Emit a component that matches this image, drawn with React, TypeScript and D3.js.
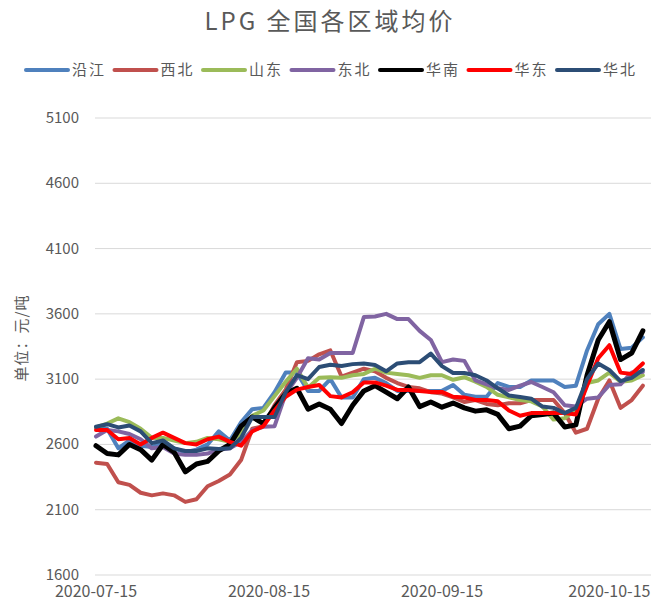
import React from "react";
import * as d3 from "d3";

const dates = [
  "2020-07-15","2020-07-17","2020-07-19","2020-07-21","2020-07-23","2020-07-25","2020-07-27","2020-07-29","2020-07-31",
  "2020-08-02","2020-08-04","2020-08-06","2020-08-08","2020-08-10","2020-08-12","2020-08-14","2020-08-16","2020-08-18",
  "2020-08-20","2020-08-22","2020-08-24","2020-08-26","2020-08-28","2020-08-30",
  "2020-09-01","2020-09-03","2020-09-05","2020-09-07","2020-09-09","2020-09-11","2020-09-13","2020-09-15","2020-09-17",
  "2020-09-19","2020-09-21","2020-09-23","2020-09-25","2020-09-27","2020-09-29",
  "2020-10-01","2020-10-03","2020-10-05","2020-10-07","2020-10-09","2020-10-11","2020-10-13","2020-10-15","2020-10-17",
  "2020-10-19","2020-10-21",
];

const yanjiang = [2730,2720,2570,2630,2590,2580,2610,2570,2540,2560,2600,2700,2630,2770,2870,2880,3000,3150,3150,3010,3010,3100,2960,2960,3100,3110,3070,3010,3010,3010,3010,3010,3055,2980,2965,2965,3070,3040,3040,3090,3090,3090,3040,3050,3320,3520,3600,3330,3340,3420];
const xibei = [2460,2450,2310,2290,2230,2210,2225,2210,2160,2180,2280,2320,2370,2480,2720,2740,2900,3020,3230,3240,3290,3320,3120,3150,3180,3160,3110,3070,3040,3030,3000,2990,2960,2925,2940,2910,2900,2915,2915,2940,2940,2940,2840,2690,2720,2950,3090,2880,2940,3050];
const shandong = [2730,2760,2800,2770,2720,2650,2650,2630,2610,2620,2650,2640,2620,2680,2820,2860,2970,3080,3180,3035,3110,3115,3110,3130,3140,3180,3150,3140,3130,3110,3130,3130,3095,3115,3080,3040,2980,2960,2940,2930,2890,2790,2800,2870,3070,3090,3150,3080,3090,3130];
const dongbei = [2660,2710,2700,2680,2640,2570,2580,2530,2520,2520,2530,2560,2570,2620,2710,2735,2740,2990,3110,3260,3250,3300,3300,3300,3575,3580,3600,3560,3560,3470,3400,3230,3250,3240,3090,3060,3030,3017,3050,3078,3040,3000,2900,2890,2950,2960,3055,3060,3150,3155];
const huanan = [2590,2530,2520,2600,2560,2480,2600,2540,2390,2450,2470,2550,2600,2740,2810,2760,2880,2990,3030,2870,2910,2870,2760,2900,3010,3050,3000,2950,3040,2890,2925,2885,2917,2880,2855,2865,2830,2720,2740,2820,2830,2840,2734,2750,3130,3400,3540,3250,3300,3470];
const huadong = [2710,2710,2640,2650,2600,2650,2690,2650,2610,2600,2640,2660,2620,2590,2700,2740,2860,2965,3020,3040,3055,2970,2960,3000,3075,3075,3050,3017,3017,3010,3002,3002,2965,2960,2940,2940,2930,2860,2820,2840,2840,2840,2840,2830,3050,3260,3360,3150,3140,3220];
const huabei = [2735,2755,2730,2745,2700,2610,2630,2570,2550,2550,2570,2565,2570,2650,2810,2810,2810,3000,3130,3100,3193,3210,3200,3215,3220,3208,3160,3220,3230,3230,3295,3200,3147,3147,3130,3090,3030,2975,2963,2950,2890,2880,2840,2880,3100,3220,3170,3085,3110,3170];

const seriesNames = ["沿江","西北","山东","东北","华南","华东","华北"];
const seriesValues = [yanjiang, xibei, shandong, dongbei, huanan, huadong, huabei];
const seriesColors = ["#4F81BD","#C0504D","#9BBB59","#8064A2","#000000","#FF0000","#2C4D75"];
const yTicks = [1600,2100,2600,3100,3600,4100,4600,5100];
const xTickLabels = ["2020-07-15","2020-08-15","2020-09-15","2020-10-15"];
const axisDomain = ["2020-07-15","2020-10-23"];

const W = 651, H = 602;
const FONT = "'Noto Sans CJK SC', 'Noto Sans', sans-serif";
const TXT = "#595959";

export default function App() {
  const parse = d3.timeParse("%Y-%m-%d");
  const x = d3.scaleTime().domain(axisDomain.map((s) => parse(s) as Date)).range([96, 651 + 3]);
  const y = d3.scaleLinear().domain([1600, 5100]).range([575, 118]);
  const pdates = dates.map((s) => parse(s) as Date);
  const line = d3.line<number>()
    .x((_, i) => x(pdates[i]))
    .y((v) => y(v))
    .curve(d3.curveLinear);

  const legendX0 = 26;
  const legendStep = 88.5;

  return (
    <svg width={W} height={H} style={{ position: "absolute", left: 0, top: 0, background: "#fff" }}>
      <rect x={0} y={0} width={W} height={H} fill="#fff" />
      <text x={330} y={30} textAnchor="middle" fontFamily={FONT} fontSize={24} fill={TXT} letterSpacing={3}>
        LPG 全国各区域均价
      </text>
      {seriesNames.map((n, i) => (
        <g key={n} transform={`translate(${legendX0 + i * legendStep},70)`}>
          <line x1={0} x2={42} y1={0} y2={0} stroke={seriesColors[i]} strokeWidth={4} strokeLinecap="round" />
          <text x={46} y={5} fontFamily={FONT} fontSize={15} fill={TXT} letterSpacing={2}>{n}</text>
        </g>
      ))}
      {yTicks.map((t) => (
        <g key={t}>
          <line x1={95} x2={651} y1={y(t)} y2={y(t)} stroke="#D9D9D9" strokeWidth={1} />
          <text x={79} y={y(t) + 5} textAnchor="end" fontFamily={FONT} fontSize={15} fill={TXT}>{t}</text>
        </g>
      ))}
      {xTickLabels.map((t) => (
        <text key={t} x={x(parse(t) as Date)} y={597} textAnchor="middle" fontFamily={FONT} fontSize={16} fill={TXT}>{t}</text>
      ))}
      <text transform="translate(27,338) rotate(-90)" textAnchor="middle" fontFamily={FONT} fontSize={15} fill={TXT} letterSpacing={1}>
        单位：元/吨
      </text>
      {seriesValues.map((vals, i) => (
        <path key={seriesNames[i]} d={line(vals) || ""} fill="none" stroke={seriesColors[i]}
          strokeWidth={i === 4 ? 5 : 4} strokeLinejoin="round" strokeLinecap="round" />
      ))}
    </svg>
  );
}
